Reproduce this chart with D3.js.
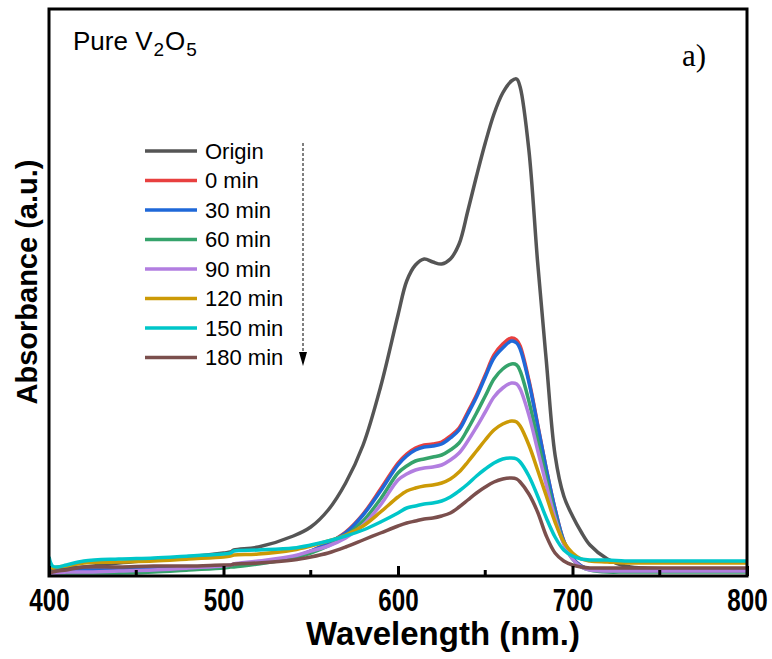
<!DOCTYPE html>
<html>
<head>
<meta charset="utf-8">
<script src="https://cdn.jsdelivr.net/npm/d3@7"></script>
<style>
  body { margin: 0; background: #fff; }
  text { font-family: "Liberation Sans", Arial, sans-serif; }
</style>
</head>
<body>
<div class="chart"></div>
<script>
// wavelength grid (nm) shared by all spectra
const wavelengths = [400, 402, 405, 410, 420, 440, 460, 480, 500, 504, 506, 520, 540, 550, 560, 570, 580, 590,
  600, 605, 610, 615, 620, 625, 630, 635, 640, 645, 650, 655, 660, 665, 668, 670, 675, 680, 685, 690, 695,
  700, 705, 710, 720, 730, 740, 760, 780, 800];

const origin = [0.014,0.014,0.014,0.016,0.018,0.026,0.032,0.038,0.046,0.048,0.052,0.058,0.080,0.098,0.132,0.186,0.262,0.378,
  0.522,0.590,0.622,0.634,0.628,0.624,0.634,0.664,0.730,0.800,0.866,0.924,0.966,0.990,0.994,0.978,0.852,0.628,0.430,0.242,0.160,
  0.120,0.088,0.062,0.034,0.020,0.016,0.014,0.014,0.014];
const min0 = [0.008,0.008,0.010,0.010,0.012,0.012,0.014,0.016,0.018,0.020,0.022,0.026,0.038,0.050,0.066,0.088,0.124,0.174,
  0.226,0.244,0.256,0.262,0.264,0.268,0.280,0.296,0.328,0.362,0.402,0.442,0.464,0.476,0.472,0.460,0.392,0.304,0.214,0.134,0.070,
  0.036,0.020,0.014,0.010,0.010,0.010,0.010,0.010,0.010];
const min30 = [0.008,0.008,0.010,0.010,0.012,0.012,0.014,0.016,0.018,0.020,0.022,0.026,0.038,0.050,0.066,0.086,0.122,0.170,
  0.222,0.240,0.252,0.258,0.260,0.264,0.276,0.292,0.324,0.358,0.398,0.436,0.456,0.470,0.466,0.454,0.388,0.302,0.214,0.134,0.070,
  0.036,0.020,0.014,0.010,0.010,0.010,0.010,0.010,0.010];
const min60 = [0.008,0.008,0.006,0.006,0.006,0.006,0.008,0.012,0.016,0.018,0.018,0.024,0.036,0.046,0.060,0.080,0.110,0.154,
  0.206,0.220,0.230,0.234,0.238,0.242,0.252,0.266,0.294,0.326,0.360,0.394,0.414,0.424,0.422,0.410,0.350,0.272,0.196,0.122,0.066,
  0.034,0.018,0.012,0.008,0.008,0.008,0.008,0.008,0.008];
const min90 = [0.006,0.006,0.006,0.008,0.008,0.010,0.012,0.016,0.020,0.022,0.024,0.030,0.040,0.050,0.060,0.076,0.102,0.142,
  0.192,0.204,0.212,0.216,0.218,0.222,0.232,0.246,0.270,0.298,0.328,0.358,0.376,0.386,0.384,0.374,0.322,0.252,0.182,0.116,0.064,
  0.034,0.018,0.012,0.010,0.010,0.010,0.010,0.010,0.010];
const min120 = [0.020,0.016,0.018,0.020,0.026,0.028,0.030,0.034,0.038,0.040,0.042,0.044,0.052,0.060,0.070,0.082,0.100,0.128,
  0.158,0.170,0.176,0.180,0.182,0.186,0.194,0.208,0.228,0.250,0.272,0.292,0.304,0.310,0.308,0.300,0.262,0.212,0.160,0.108,0.068,
  0.046,0.034,0.030,0.028,0.026,0.026,0.026,0.026,0.026];
const min150 = [0.038,0.020,0.018,0.022,0.030,0.034,0.036,0.040,0.044,0.046,0.050,0.052,0.056,0.062,0.070,0.080,0.092,0.108,
  0.126,0.136,0.140,0.144,0.146,0.150,0.158,0.170,0.184,0.200,0.214,0.226,0.234,0.236,0.234,0.228,0.200,0.160,0.116,0.078,0.052,
  0.040,0.034,0.032,0.032,0.030,0.030,0.030,0.030,0.030];
const min180 = [0.006,0.008,0.010,0.012,0.018,0.018,0.020,0.020,0.022,0.022,0.024,0.026,0.032,0.038,0.046,0.058,0.072,0.086,
  0.100,0.106,0.110,0.114,0.116,0.120,0.126,0.138,0.152,0.166,0.178,0.188,0.194,0.196,0.194,0.188,0.164,0.128,0.080,0.046,0.030,
  0.022,0.018,0.016,0.016,0.016,0.016,0.016,0.016,0.016];

const seriesNames = ["Origin", "0 min", "30 min", "60 min", "90 min", "120 min", "150 min", "180 min"];
const seriesValues = [origin, min0, min30, min60, min90, min120, min150, min180];
const seriesColors = ["#555555", "#e8403f", "#1f68d8", "#35a36b", "#b27ee0", "#cc9a06", "#00c6c9", "#7b4f4d"];
const xTicks = [400, 500, 600, 700, 800];
const xMinorTicks = [450, 550, 650, 750];

var margin = ({top: 9, right: 25, bottom: 83, left: 49});
var width = 772 - margin.left - margin.right,
    height = 659 - margin.top - margin.bottom;

var root = d3.select(".chart").append("svg")
    .attr("width", 772)
    .attr("height", 659);

var svg = root.append("g")
    .attr("transform", "translate(" + margin.left + "," + margin.top + ")");

const xScale = d3.scaleLinear().domain([400, 800]).range([0, width]);
const yScale = d3.scaleLinear().domain([0, 1.134]).range([height, 0]);

svg.append("clipPath").attr("id", "clip")
    .append("rect").attr("width", width).attr("height", height);

const line = d3.line()
    .x(d => xScale(d[0]))
    .y(d => yScale(d[1]))
    .curve(d3.curveCatmullRom.alpha(0.5));

const data = seriesNames.map((name, i) => ({
    name: name,
    color: seriesColors[i],
    points: wavelengths.map((w, j) => [w, seriesValues[i][j]])
}));

svg.append("g")
    .attr("clip-path", "url(#clip)")
    .selectAll(".spectrum")
    .data(data)
    .join("path")
    .attr("class", "spectrum")
    .attr("fill", "none")
    .attr("stroke", d => d.color)
    .attr("stroke-width", 3.5)
    .attr("stroke-linejoin", "round")
    .attr("d", d => line(d.points));

// inward ticks on the bottom axis
const xAxis = d3.axisBottom(xScale)
    .tickValues(xTicks)
    .tickSizeInner(-10)
    .tickSizeOuter(0)
    .tickPadding(13)
    .tickFormat(d3.format("d"));

const gx = svg.append("g")
    .attr("class", "axis x-axis")
    .attr("transform", `translate(0, ${height})`)
    .call(xAxis);
gx.select(".domain").remove();
gx.selectAll("line").attr("stroke", "#000").attr("stroke-width", 3);
gx.selectAll("text")
    .attr("fill", "#000")
    .attr("transform", "scale(0.78,1)")
    .style("font-size", "31px")
    .style("font-weight", "bold");

svg.append("g")
    .attr("transform", `translate(0, ${height})`)
    .selectAll(".minor")
    .data(xMinorTicks)
    .join("line")
    .attr("class", "minor")
    .attr("x1", d => xScale(d)).attr("x2", d => xScale(d))
    .attr("y1", 0).attr("y2", -6)
    .attr("stroke", "#000").attr("stroke-width", 3);

// frame
svg.append("rect")
    .attr("width", width).attr("height", height)
    .attr("fill", "none")
    .attr("stroke", "#000")
    .attr("stroke-width", 3);

// axis titles
root.append("text")
    .attr("x", 443)
    .attr("y", 645)
    .attr("text-anchor", "middle")
    .style("font-size", "33px")
    .style("font-weight", "bold")
    .text("Wavelength (nm.)");

root.append("text")
    .attr("transform", "translate(37, 282) rotate(-90)")
    .attr("text-anchor", "middle")
    .style("font-size", "29px")
    .style("font-weight", "bold")
    .text("Absorbance (a.u.)");

// annotations
const title = root.append("text")
    .attr("x", 73).attr("y", 50)
    .style("font-size", "26px");
title.append("tspan").text("Pure V");
title.append("tspan").attr("dy", 6).attr("dx", 1).style("font-size", "19px").text("2");
title.append("tspan").attr("dy", -6).attr("dx", 1).text("O");
title.append("tspan").attr("dy", 6).attr("dx", 1).style("font-size", "19px").text("5");

root.append("text")
    .attr("x", 682).attr("y", 66)
    .style("font-family", "'Liberation Serif', 'Times New Roman', serif")
    .style("font-size", "31px")
    .text("a)");

// legend
const legend = root.append("g").attr("class", "legend");
const rows = legend.selectAll("g")
    .data(data)
    .join("g")
    .attr("transform", (d, i) => `translate(145, ${151 + i * 29.5})`);
rows.append("line")
    .attr("x1", 0).attr("x2", 52)
    .attr("stroke", d => d.color)
    .attr("stroke-width", 3.5);
rows.append("text")
    .attr("x", 60)
    .attr("dy", "0.36em")
    .style("font-size", "22px")
    .text(d => d.name);

// dashed arrow showing time direction
root.append("line")
    .attr("x1", 303).attr("x2", 303)
    .attr("y1", 143).attr("y2", 356)
    .attr("stroke", "#000")
    .attr("stroke-width", 1)
    .attr("stroke-dasharray", "3,2");
root.append("path")
    .attr("d", "M299,352 L307,352 L303,366 Z")
    .attr("fill", "#000");
</script>
</body>
</html>
